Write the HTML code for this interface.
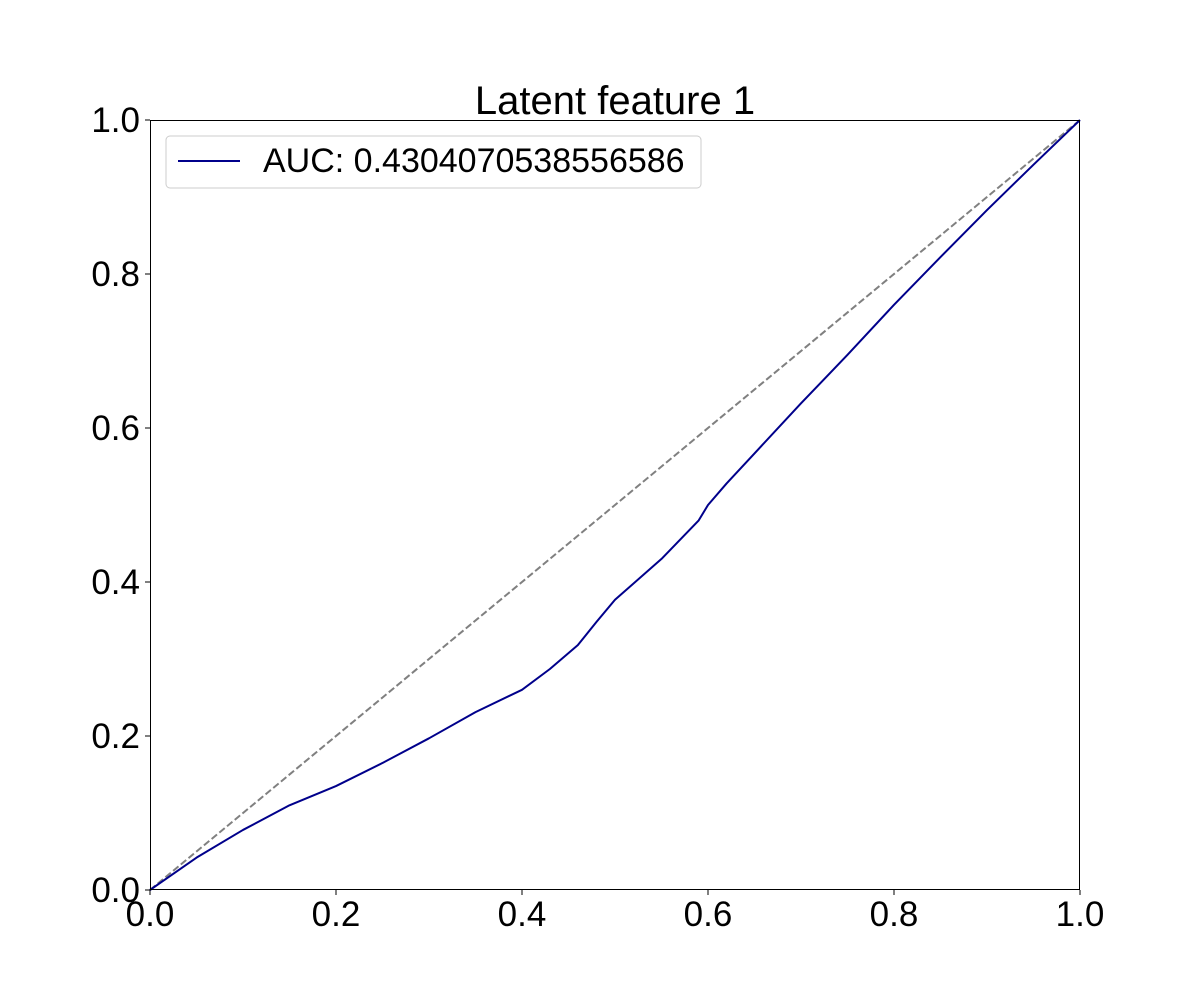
<!DOCTYPE html>
<html><head><meta charset="utf-8"><style>
body{margin:0;background:#fff;}
svg text{font-family:"Liberation Sans","DejaVu Sans",sans-serif;fill:#000;}
</style></head><body>
<svg id="chart" width="1200" height="1000">
<rect width="1200" height="1000" fill="#fff"/>
<g id="plot"></g>
</svg>
<script>
const fprValues=[0,0.05,0.1,0.15,0.2,0.25,0.3,0.35,0.4,0.43,0.46,0.48,0.5,0.55,0.59,0.6,0.62,0.65,0.7,0.75,0.8,0.85,0.9,0.95,1];
const tprValues=[0,0.042,0.078,0.11,0.135,0.165,0.197,0.231,0.26,0.287,0.318,0.348,0.377,0.43,0.48,0.5,0.528,0.567,0.632,0.695,0.76,0.822,0.883,0.942,1];
const xTicks=["0.0","0.2","0.4","0.6","0.8","1.0"];
const yTicks=["0.0","0.2","0.4","0.6","0.8","1.0"];
const legendLabel="AUC: 0.4304070538556586";
const L=150,R=1080,T=120,B=890;
const sx=v=>L+v*(R-L), sy=v=>B-v*(B-T);
const NS="http://www.w3.org/2000/svg";
const g=document.getElementById('plot');
function mk(tag,attrs,txt){const e=document.createElementNS(NS,tag);for(const k in attrs)e.setAttribute(k,attrs[k]);if(txt!=null)e.textContent=txt;g.appendChild(e);return e;}
let e=mk('line',{x1:sx(0),y1:sy(0),x2:sx(1),y2:sy(1),stroke:'#808080','stroke-width':2,'stroke-dasharray':'7,3'});


e=mk('polyline',{points:fprValues.map((v,i)=>sx(v)+','+sy(tprValues[i])).join(' '),fill:'none',stroke:'#00008b','stroke-width':2,'stroke-linejoin':'round'});


e=mk('rect',{x:L+0.5,y:T+0.5,width:R-L-1,height:B-T-1,fill:'none',stroke:'#000','stroke-width':1,'shape-rendering':'crispEdges'});


xTicks.forEach(t=>{const v=parseFloat(t);
 let l=mk('line',{x1:sx(v),x2:sx(v),y1:B,y2:B+5,stroke:'#000'});
 
 
 let tx=mk('text',{x:sx(v),y:B+36,'text-anchor':'middle','font-size':35},t);
 
 
});
yTicks.forEach(t=>{const v=parseFloat(t);
 let l=mk('line',{x1:L-5,x2:L,y1:sy(v),y2:sy(v),stroke:'#000'});
 
 
 let tx=mk('text',{x:L-10,y:sy(v)+12,'text-anchor':'end','font-size':35},t);
 
 
});
e=mk('text',{x:(L+R)/2,y:T-6,'text-anchor':'middle','font-size':40},'Latent feature 1');


e=mk('rect',{x:166,y:136,width:535,height:52,rx:4,fill:'#fff','fill-opacity':0.8,stroke:'#ccc'});


e=mk('line',{x1:178,x2:240,y1:161,y2:161,stroke:'#00008b','stroke-width':2});


e=mk('text',{x:263,y:172,'font-size':34},legendLabel);


</script>
</body></html>
